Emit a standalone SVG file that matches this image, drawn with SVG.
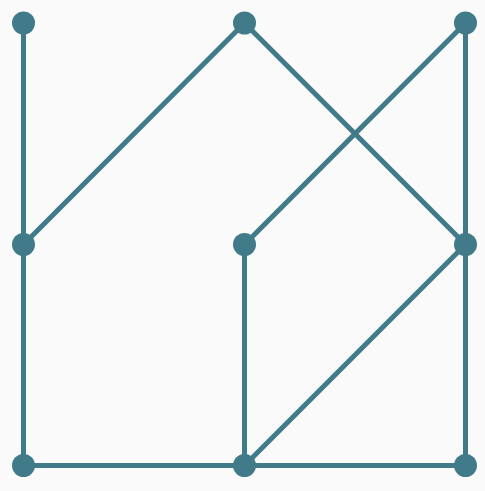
<svg xmlns="http://www.w3.org/2000/svg" width="485" height="491" viewBox="0 0 485 491">
<style>
.e{stroke:#417b8a;stroke-width:5;fill:none;stroke-linecap:round}
.n{fill:#417b8a}
</style>
<rect width="485" height="491" fill="#fafafa"/>
<g id="connectors">
<line class="e" x1="23.5" y1="23" x2="23.5" y2="244.5"/>
<line class="e" x1="23.5" y1="244.5" x2="244.5" y2="23"/>
<line class="e" x1="244.5" y1="23" x2="465.5" y2="244.5"/>
<line class="e" x1="465.5" y1="23" x2="244.5" y2="244.5"/>
<line class="e" x1="465.5" y1="23" x2="465.5" y2="244.5"/>
<line class="e" x1="23.5" y1="244.5" x2="23.5" y2="465.5"/>
<line class="e" x1="244.5" y1="244.5" x2="244.5" y2="465.5"/>
<line class="e" x1="465.5" y1="244.5" x2="244.5" y2="465.5"/>
<line class="e" x1="465.5" y1="244.5" x2="465.5" y2="465.5"/>
<line class="e" x1="23.5" y1="465.5" x2="465.5" y2="465.5"/>
</g>
<g id="n1"><circle class="n" cx="23.5" cy="23" r="11.5"/></g>
<g id="n2"><circle class="n" cx="244.5" cy="23" r="11.5"/></g>
<g id="n3"><circle class="n" cx="465.5" cy="23" r="11.5"/></g>
<g id="n4"><circle class="n" cx="23.5" cy="244.5" r="11.5"/></g>
<g id="n5"><circle class="n" cx="244.5" cy="244.5" r="11.5"/></g>
<g id="n6"><circle class="n" cx="465.5" cy="244.5" r="11.5"/></g>
<g id="n7"><circle class="n" cx="23.5" cy="465.5" r="11.5"/></g>
<g id="n8"><circle class="n" cx="244.5" cy="465.5" r="11.5"/></g>
<g id="n9"><circle class="n" cx="465.5" cy="465.5" r="11.5"/></g>
</svg>
